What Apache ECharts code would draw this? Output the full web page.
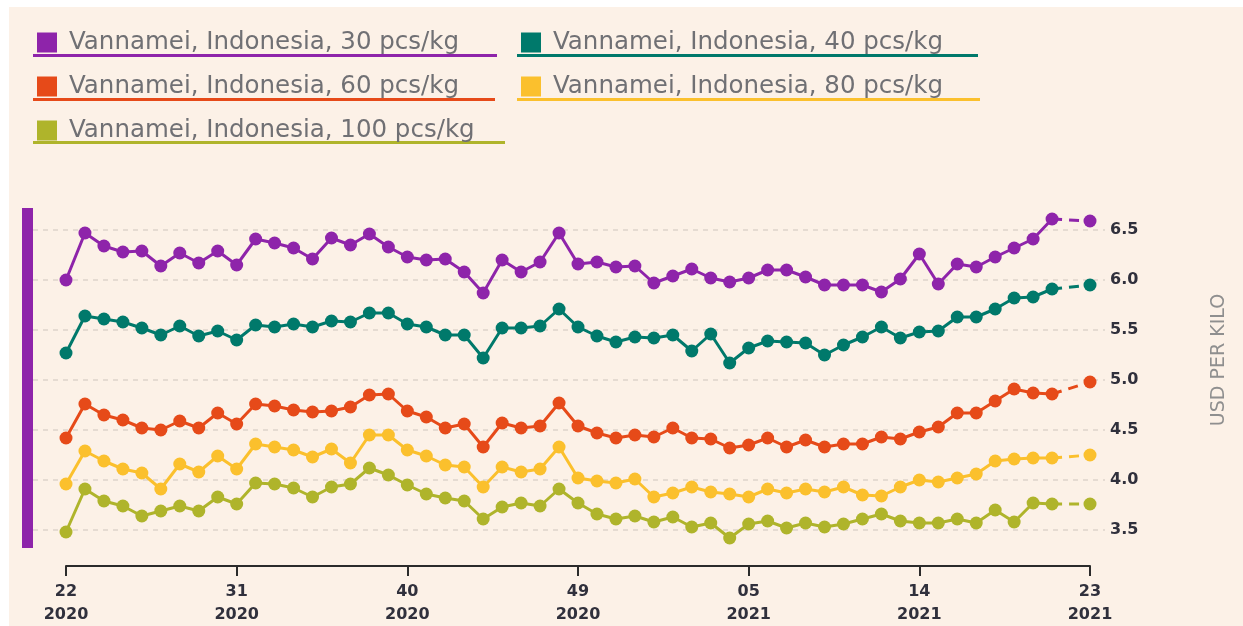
<!DOCTYPE html>
<html>
<head>
<meta charset="utf-8">
<script src="https://cdn.jsdelivr.net/npm/echarts@6/dist/echarts.min.js"></script>
<style>
html, body { margin: 0; padding: 0; background: #fff; }
#chart { width: 1243px; height: 626px; }
</style>
</head>
<body>
<div id="chart"></div>
<script>
// week / year categories, week 22 2021 has no price
const weekLabels = [
  '22\n2020','23\n2020','24\n2020','25\n2020','26\n2020','27\n2020','28\n2020','29\n2020','30\n2020',
  '31\n2020','32\n2020','33\n2020','34\n2020','35\n2020','36\n2020','37\n2020','38\n2020','39\n2020',
  '40\n2020','41\n2020','42\n2020','43\n2020','44\n2020','45\n2020','46\n2020','47\n2020','48\n2020',
  '49\n2020','50\n2020','51\n2020','52\n2020','53\n2020','01\n2021','02\n2021','03\n2021','04\n2021',
  '05\n2021','06\n2021','07\n2021','08\n2021','09\n2021','10\n2021','11\n2021','12\n2021','13\n2021',
  '14\n2021','15\n2021','16\n2021','17\n2021','18\n2021','19\n2021','20\n2021','21\n2021','22\n2021',
  '23\n2021'
];

const seriesNames = [
  'Vannamei, Indonesia, 30 pcs/kg',
  'Vannamei, Indonesia, 40 pcs/kg',
  'Vannamei, Indonesia, 60 pcs/kg',
  'Vannamei, Indonesia, 80 pcs/kg',
  'Vannamei, Indonesia, 100 pcs/kg'
];

const pcs30 = [6.00,6.47,6.34,6.28,6.29,6.14,6.27,6.17,6.29,6.15,
  6.41,6.37,6.32,6.21,6.42,6.35,6.46,6.33,6.23,6.20,
  6.21,6.08,5.87,6.20,6.08,6.18,6.47,6.16,6.18,6.13,
  6.14,5.97,6.04,6.11,6.02,5.98,6.02,6.10,6.10,6.03,
  5.95,5.95,5.95,5.88,6.01,6.26,5.96,6.16,6.13,6.23,
  6.32,6.41,6.61,null,6.59];
const pcs40 = [5.27,5.64,5.61,5.58,5.52,5.45,5.54,5.44,5.49,5.40,
  5.55,5.53,5.56,5.53,5.59,5.58,5.67,5.67,5.56,5.53,
  5.45,5.45,5.22,5.52,5.52,5.54,5.71,5.53,5.44,5.38,
  5.43,5.42,5.45,5.29,5.46,5.17,5.32,5.39,5.38,5.37,
  5.25,5.35,5.43,5.53,5.42,5.48,5.49,5.63,5.63,5.71,
  5.82,5.83,5.91,null,5.95];
const pcs60 = [4.42,4.76,4.65,4.60,4.52,4.50,4.59,4.52,4.67,4.56,
  4.76,4.74,4.70,4.68,4.69,4.73,4.85,4.86,4.69,4.63,
  4.52,4.56,4.33,4.57,4.52,4.54,4.77,4.54,4.47,4.42,
  4.45,4.43,4.52,4.42,4.41,4.32,4.35,4.42,4.33,4.40,
  4.33,4.36,4.36,4.43,4.41,4.48,4.53,4.67,4.67,4.79,
  4.91,4.87,4.86,null,4.98];
const pcs80 = [3.96,4.29,4.19,4.11,4.07,3.91,4.16,4.08,4.24,4.11,
  4.36,4.33,4.30,4.23,4.31,4.17,4.45,4.45,4.30,4.24,
  4.15,4.13,3.93,4.13,4.08,4.11,4.33,4.02,3.99,3.97,
  4.01,3.83,3.87,3.93,3.88,3.86,3.83,3.91,3.87,3.91,
  3.88,3.93,3.85,3.84,3.93,4.00,3.98,4.02,4.06,4.19,
  4.21,4.22,4.22,null,4.25];
const pcs100 = [3.48,3.91,3.79,3.74,3.64,3.69,3.74,3.69,3.83,3.76,
  3.97,3.96,3.92,3.83,3.93,3.96,4.12,4.05,3.95,3.86,
  3.82,3.79,3.61,3.73,3.77,3.74,3.91,3.77,3.66,3.61,
  3.64,3.58,3.63,3.53,3.57,3.42,3.56,3.59,3.52,3.57,
  3.53,3.56,3.61,3.66,3.59,3.57,3.57,3.61,3.57,3.70,
  3.58,3.77,3.76,null,3.76];

const colors = ['#8e24aa', '#00796b', '#e64a19', '#fbc02d', '#afb42b'];
const allData = [pcs30, pcs40, pcs60, pcs80, pcs100];
const lastSolid = 52; // last point before the gap week

var chartDom = document.getElementById('chart');
var myChart = echarts.init(chartDom);

const font = 'DejaVu Sans';

let series = [];
allData.forEach((vals, k) => {
  series.push({
    name: seriesNames[k],
    type: 'line',
    xAxisIndex: 1,
    yAxisIndex: 1,
    data: vals,
    symbol: 'circle',
    symbolSize: 13,
    showSymbol: true,
    showAllSymbol: true,
    lineStyle: { width: 3, color: colors[k] },
    itemStyle: { color: colors[k] },
    z: 3
  });
  // dashed bridge over the missing week
  series.push({
    name: seriesNames[k],
    type: 'line',
    xAxisIndex: 1,
    yAxisIndex: 1,
    data: vals.map((v, i) => (i >= lastSolid ? v : null)),
    connectNulls: true,
    symbol: 'none',
    lineStyle: { width: 3, type: [10, 7], color: colors[k] },
    itemStyle: { color: colors[k] },
    z: 2
  });
});

const legendPos = [[37, 30], [521, 30], [37, 74], [521, 74], [37, 118]];
const underline = [[33, 54, 464], [517, 54, 461], [33, 98, 462], [517, 98, 463], [33, 141, 472]];

var option = {
  backgroundColor: '#fcf1e7',
  animation: false,
  textStyle: { fontFamily: font },
  legend: seriesNames.map((n, k) => ({
    data: [n],
    left: legendPos[k][0],
    top: legendPos[k][1],
    padding: 0,
    icon: 'rect',
    itemWidth: 20,
    itemHeight: 20,
    selectedMode: false,
    textStyle: { fontFamily: font, fontSize: 24.5, color: '#707074', padding: [0, 0, 0, 7] }
  })),
  grid: [
    { left: 33, right: 138, top: 180, bottom: 46, containLabel: false, outerBoundsMode: 'none' },
    { left: 66, right: 153, top: 216, bottom: 60, containLabel: false, outerBoundsMode: 'none' }
  ],
  xAxis: [
    { gridIndex: 0, type: 'value', min: 0, max: 1, show: false },
    {
      gridIndex: 1,
      type: 'category',
      data: weekLabels,
      boundaryGap: false,
      axisLine: { onZero: false, lineStyle: { color: '#2b2b2b', width: 2 } },
      axisTick: { interval: 8, length: 10, lineStyle: { color: '#2b2b2b', width: 2 } },
      axisLabel: {
        interval: 8,
        margin: 14,
        color: '#30303c',
        fontFamily: font,
        fontSize: 16,
        fontWeight: 'bold',
        lineHeight: 23
      },
      splitLine: { show: false }
    }
  ],
  yAxis: [
    {
      gridIndex: 0,
      type: 'value',
      position: 'right',
      min: 3,
      max: 7,
      interval: 0.5,
      axisLine: { show: false },
      axisTick: { show: false },
      axisLabel: {
        margin: 5,
        color: '#30303c',
        fontFamily: font,
        fontSize: 16,
        fontWeight: 'bold',
        showMinLabel: false,
        showMaxLabel: false,
        formatter: v => v.toFixed(1)
      },
      splitLine: {
        show: true,
        showMinLine: false,
        showMaxLine: false,
        lineStyle: { color: '#ddd4cb', width: 1.5, type: [5, 5] }
      }
    },
    { gridIndex: 1, type: 'value', min: 3.14, max: 6.64, show: false }
  ],
  graphic: [
    { type: 'rect', shape: { x: 0, y: 0, width: 1243, height: 7 }, style: { fill: '#fff' } },
    { type: 'rect', shape: { x: 0, y: 0, width: 9, height: 626 }, style: { fill: '#fff' } },
    { type: 'rect', shape: { x: 22, y: 208, width: 11, height: 340 }, style: { fill: colors[0] } },
    {
      type: 'text',
      x: 1219,
      y: 360,
      rotation: Math.PI / 2,
      style: {
        text: 'USD PER KILO',
        fill: '#8f8f8f',
        font: '19px "DejaVu Sans"',
        align: 'center',
        verticalAlign: 'middle'
      }
    }
  ].concat(underline.map((u, k) => ({
    type: 'rect',
    shape: { x: u[0], y: u[1], width: u[2], height: 3 },
    style: { fill: colors[k] }
  }))),
  series: series
};

option && myChart.setOption(option);
</script>
</body>
</html>
